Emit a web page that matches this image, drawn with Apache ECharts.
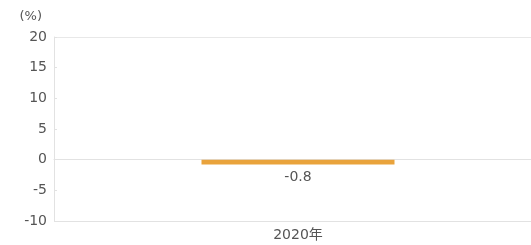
<!DOCTYPE html>
<html>
<head>
<meta charset="utf-8">
<script src="https://cdn.jsdelivr.net/npm/echarts@6/dist/echarts.min.js"></script>
<style>
  html, body { margin: 0; padding: 0; background: #fff; }
  #diagram { width: 531px; height: 245px; }
</style>
</head>
<body>
<div id="diagram"></div>
<script>
// データ
var categories = ['2020年'];
var values = [-0.8];
var yTicks = { min: -10, max: 20, interval: 5 };

var myChart = echarts.init(document.getElementById('diagram'));

var font = '"DejaVu Sans", "Noto Sans CJK JP", sans-serif';

var option = {
    animation: false,
    textStyle: { fontFamily: font },
    grid: { left: 54, width: 488, top: 37, bottom: 24, containLabel: false, outerBoundsMode: 'none' },
    xAxis: {
        type: 'category',
        data: categories,
        axisLine: { show: true, lineStyle: { color: '#e2e2e2' } },
        axisTick: { show: false },
        axisLabel: { color: '#555', fontSize: 14, margin: 7, fontFamily: font }
    },
    yAxis: {
        type: 'value',
        min: yTicks.min,
        max: yTicks.max,
        interval: yTicks.interval,
        name: '(%)',
        nameLocation: 'end',
        nameGap: 14,
        nameTextStyle: { color: '#555', fontSize: 13, align: 'right', padding: [0, 12, 0, 0], fontFamily: font },
        axisLine: { show: true, lineStyle: { color: '#e2e2e2' } },
        axisTick: { show: true, inside: true, length: 3, lineStyle: { color: '#e2e2e2' } },
        axisLabel: { color: '#555', fontSize: 14, margin: 7, fontFamily: font },
        splitLine: {
            show: true,
            lineStyle: {
                // -10, -5, 0, 5, 10, 15, 20
                color: ['#e2e2e2', 'rgba(0,0,0,0)', '#e2e2e2', 'rgba(0,0,0,0)', 'rgba(0,0,0,0)', 'rgba(0,0,0,0)', '#e8e8e8']
            }
        }
    },
    series: [{
        type: 'bar',
        data: values,
        barWidth: 193,
        itemStyle: { color: '#e9a33c' },
        label: {
            show: true,
            position: 'bottom',
            distance: 6,
            color: '#555',
            fontSize: 14,
            fontFamily: font
        }
    }]
};

myChart.setOption(option);
</script>
</body>
</html>
